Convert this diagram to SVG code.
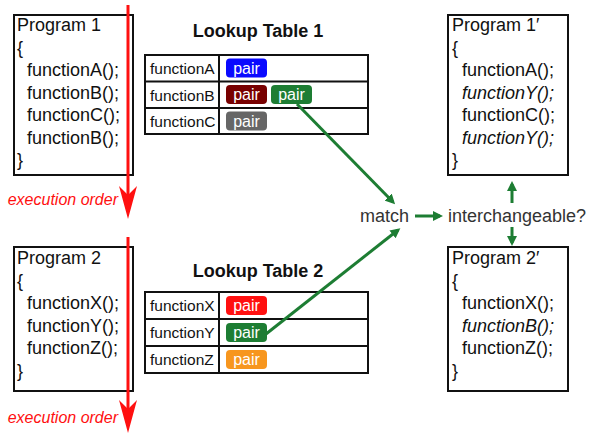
<svg xmlns="http://www.w3.org/2000/svg" width="593" height="434" viewBox="0 0 593 434">
  <style>
    text { font-family: "Liberation Sans", Arial, sans-serif; fill: #111; }
    .code { font-size: 18px; }
    .it { font-style: italic; }
    .title { font-size: 18px; font-weight: bold; text-anchor: middle; }
    .cell { font-size: 15.5px; }
    .pairtxt { font-size: 16px; fill: #fff; text-anchor: middle; }
    .box { fill: #fff; stroke: #111; stroke-width: 2; }
    .grid { fill: none; stroke: #111; stroke-width: 2; }
    .exec { font-size: 16px; font-style: italic; fill: #ff1010; text-anchor: end; }
    .lbl { font-size: 18px; fill: #333; }
    .red { stroke: #ff1010; stroke-width: 3; fill: none; }
    .green { stroke: #1d7d33; stroke-width: 3; fill: none; }
  </style>
  <defs>
    <marker id="redHead" viewBox="0 0 33 18" refX="19" refY="9" markerWidth="33" markerHeight="18" markerUnits="userSpaceOnUse" orient="auto">
      <path d="M0,0 L33,9 L0,18 L9,9 z" fill="#ff1010"/>
    </marker>
    <marker id="greenHead" viewBox="0 0 10 10" refX="7" refY="5" markerWidth="10" markerHeight="10" markerUnits="userSpaceOnUse" orient="auto">
      <path d="M0,0 L10,5 L0,10 z" fill="#1d7d33"/>
    </marker>
  </defs>

  <!-- Program 1 -->
  <g id="program1">
    <rect class="box" x="14" y="15" width="119" height="160"/>
    <text class="code" x="17" y="31">Program 1</text>
    <text class="code" x="17" y="53.5">{</text>
    <text class="code" x="27" y="76">functionA();</text>
    <text class="code" x="27" y="98.5">functionB();</text>
    <text class="code" x="27" y="121">functionC();</text>
    <text class="code" x="27" y="143.5">functionB();</text>
    <text class="code" x="17" y="166">}</text>
  </g>

  <!-- Program 2 -->
  <g id="program2">
    <rect class="box" x="14" y="247" width="119" height="144"/>
    <text class="code" x="17" y="264">Program 2</text>
    <text class="code" x="17" y="286.5">{</text>
    <text class="code" x="27" y="309">functionX();</text>
    <text class="code" x="27" y="331.5">functionY();</text>
    <text class="code" x="27" y="354">functionZ();</text>
    <text class="code" x="17" y="376.5">}</text>
  </g>

  <!-- Execution order arrows -->
  <g id="exec1">
    <line class="red" x1="128" y1="5" x2="128" y2="205" marker-end="url(#redHead)"/>
    <text class="exec" x="118" y="205">execution order</text>
  </g>
  <g id="exec2">
    <line class="red" x1="128" y1="237" x2="128" y2="419" marker-end="url(#redHead)"/>
    <text class="exec" x="118" y="423">execution order</text>
  </g>

  <!-- Lookup Table 1 -->
  <g id="table1">
    <text class="title" x="258" y="37">Lookup Table 1</text>
    <rect class="grid" x="145" y="55" width="223" height="79"/>
    <line class="grid" x1="145" y1="81.5" x2="368" y2="81.5"/>
    <line class="grid" x1="145" y1="108" x2="368" y2="108"/>
    <line class="grid" x1="219" y1="55" x2="219" y2="134"/>
    <text class="cell" x="150" y="74">functionA</text>
    <text class="cell" x="150" y="100.5">functionB</text>
    <text class="cell" x="150" y="127">functionC</text>
    <rect x="226" y="58.5" width="41" height="19" rx="4" fill="#0a0aff"/>
    <text class="pairtxt" x="246.5" y="73.5">pair</text>
    <rect x="226" y="85" width="41" height="19" rx="4" fill="#780000"/>
    <text class="pairtxt" x="246.5" y="100">pair</text>
    <rect x="271" y="85" width="41" height="19" rx="4" fill="#1d7d33"/>
    <text class="pairtxt" x="291.5" y="100">pair</text>
    <rect x="226" y="111.5" width="41" height="19" rx="4" fill="#666"/>
    <text class="pairtxt" x="246.5" y="126.5">pair</text>
  </g>

  <!-- Lookup Table 2 -->
  <g id="table2">
    <text class="title" x="258" y="277">Lookup Table 2</text>
    <rect class="grid" x="145" y="292" width="223" height="81"/>
    <line class="grid" x1="145" y1="319" x2="368" y2="319"/>
    <line class="grid" x1="145" y1="346" x2="368" y2="346"/>
    <line class="grid" x1="219" y1="292" x2="219" y2="373"/>
    <text class="cell" x="150" y="311">functionX</text>
    <text class="cell" x="150" y="338">functionY</text>
    <text class="cell" x="150" y="365">functionZ</text>
    <rect x="226" y="296" width="41" height="19" rx="4" fill="#ff1010"/>
    <text class="pairtxt" x="246.5" y="311">pair</text>
    <rect x="226" y="323" width="41" height="19" rx="4" fill="#1d7d33"/>
    <text class="pairtxt" x="246.5" y="338">pair</text>
    <rect x="226" y="350" width="41" height="19" rx="4" fill="#f7961e"/>
    <text class="pairtxt" x="246.5" y="365">pair</text>
  </g>

  <!-- Labels -->
  <g id="match">
    <text class="lbl" x="360" y="222">match</text>
  </g>
  <g id="interchangeable">
    <text class="lbl" x="448" y="222">interchangeable?</text>
  </g>

  <!-- Program 1' -->
  <g id="program1prime">
    <rect class="box" x="448" y="15" width="120" height="160"/>
    <text class="code" x="452" y="31">Program 1′</text>
    <text class="code" x="452" y="53.5">{</text>
    <text class="code" x="462" y="76">functionA();</text>
    <text class="code it" x="462" y="98.5">functionY();</text>
    <text class="code" x="462" y="121">functionC();</text>
    <text class="code it" x="462" y="143.5">functionY();</text>
    <text class="code" x="452" y="166">}</text>
  </g>

  <!-- Program 2' -->
  <g id="program2prime">
    <rect class="box" x="448" y="247" width="120" height="144"/>
    <text class="code" x="452" y="264">Program 2′</text>
    <text class="code" x="452" y="286.5">{</text>
    <text class="code" x="462" y="309">functionX();</text>
    <text class="code it" x="462" y="331.5">functionB();</text>
    <text class="code" x="462" y="354">functionZ();</text>
    <text class="code" x="452" y="376.5">}</text>
  </g>

  <!-- Connectors -->
  <g id="connectors">
    <line class="green" x1="297" y1="104" x2="393" y2="202" marker-end="url(#greenHead)"/>
    <line class="green" x1="266" y1="334" x2="398" y2="230" marker-end="url(#greenHead)"/>
    <line class="green" x1="415" y1="216" x2="440" y2="216" marker-end="url(#greenHead)"/>
    <line class="green" x1="512" y1="203" x2="512" y2="184" marker-end="url(#greenHead)"/>
    <line class="green" x1="512" y1="227" x2="512" y2="243" marker-end="url(#greenHead)"/>
  </g>
</svg>
